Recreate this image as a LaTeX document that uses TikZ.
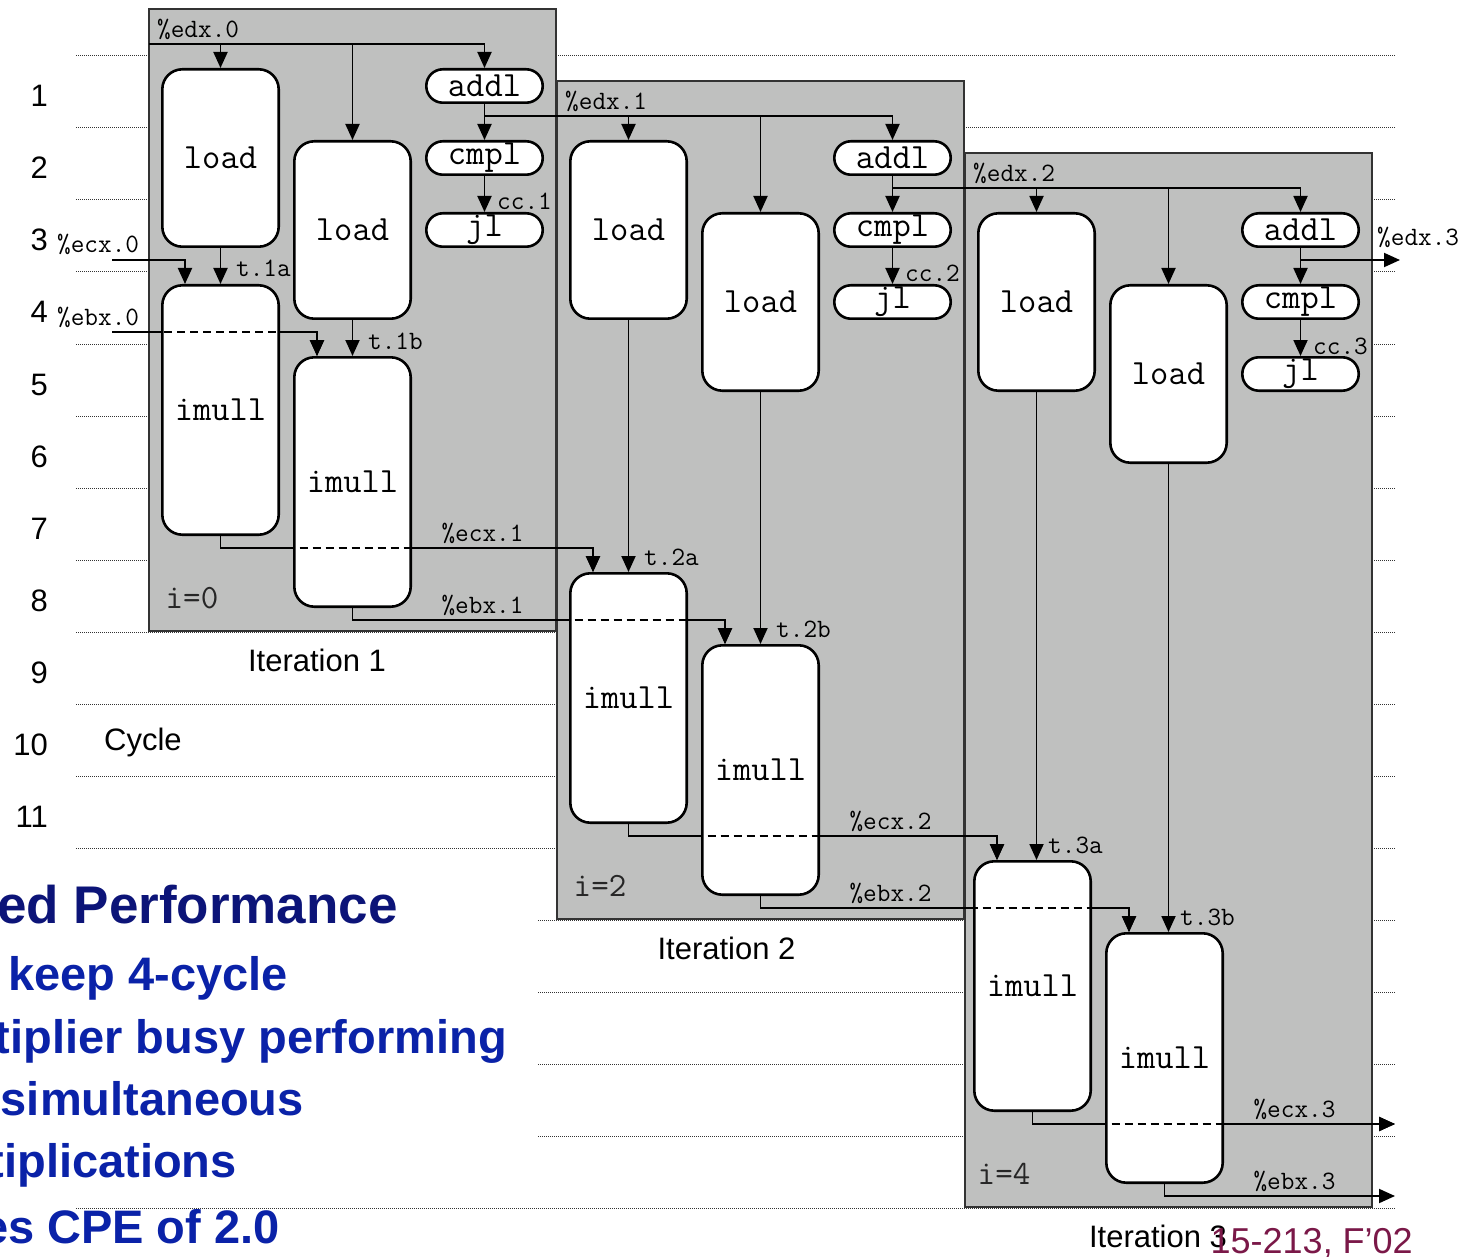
\documentclass[tikz,border=0pt]{standalone}
\usepackage{fontspec}
\setmainfont{Liberation Sans}
\newcommand\cour{\ttfamily}
\usetikzlibrary{arrows.meta}
\pgfdeclarelayer{gridl}
\pgfdeclarelayer{boxl}
\pgfdeclarelayer{linel}
\pgfdeclarelayer{frontl}
\pgfsetlayers{gridl,boxl,linel,main,frontl}
\definecolor{boxgray}{RGB}{191,192,191}
\definecolor{navyt}{RGB}{12,20,120}
\definecolor{bluet}{RGB}{10,34,168}
\definecolor{maroont}{RGB}{122,24,72}
\newcommand\twolayer[1]{%
  \begin{pgfonlayer}{linel}\draw[cn] #1;\end{pgfonlayer}%
  \begin{pgfonlayer}{frontl}\draw[cn,dash pattern=on 8pt off 5pt] #1;\end{pgfonlayer}}
\begin{document}
\begin{tikzpicture}[x=1pt,y=-1pt,
  op/.style={draw, line width=2.6pt, fill=white, rounded corners=20pt,
    minimum width=116.4pt, minimum height=177.4pt, inner sep=0pt,
    font=\cour\fontsize{35.5}{35.5}\selectfont},
  mul/.style={op, minimum height=249.4pt},
  pill/.style={op, rounded corners=16.5pt, minimum height=33.4pt},
  sm/.style={font=\cour\fontsize{26.5}{26.5}\selectfont, inner sep=0pt},
  itext/.style={font=\cour\fontsize{34}{34}\selectfont, inner sep=0pt, text=black!85},
  sansbig/.style={font=\fontsize{31}{31}\selectfont, inner sep=0pt},
  cn/.style={line width=1.9pt, -{Triangle[width=14pt,length=16pt]}},
  ln/.style={line width=1.9pt},
  itbox/.style={fill=boxgray, draw=black!80, line width=1.6pt},
  gridln/.style={line width=1pt, black!80, dash pattern=on 1pt off 1pt},
  bluebig/.style={font=\bfseries\fontsize{47}{47}\selectfont, inner sep=0pt, text=bluet, anchor=base east}
]
\useasboundingbox (0,0) rectangle (1475,1257);

% background and grid of cycles
\begin{pgfonlayer}{gridl}
\fill[white] (0,0) rectangle (1475,1257);
\foreach \i in {0,...,11,16} \draw[gridln] (76,56+72*\i) -- (1395,56+72*\i);
\foreach \i in {12,...,15} \draw[gridln] (538,56+72*\i) -- (1395,56+72*\i);
\end{pgfonlayer}

% cycle numbers
\foreach \r in {1,...,11} \node[sansbig, anchor=base east] (row\r) at (48,107+72*\r-72) {\r};
\node[sansbig, anchor=base west] (cyc) at (104,750) {Cycle};

% iterations
\foreach \k/\nn/\ii/\dx/\dy/\mx/\my in {0/1/0/0/0/0/0, 1/2/2/408/72/408/288, 2/3/4/816/144/812/576}{
  \begin{pgfonlayer}{boxl}
    \draw[itbox] (149+\dx,9+\dy) rectangle (556+\dx,631+\my);
  \end{pgfonlayer}
  \node[op] (La\k) at (220.5+\dx,158+\dy) {load};
  \node[op] (Lb\k) at (352.5+\dx,230+\dy) {load};
  \node[pill] (A\k) at (484.5+\dx,86+\dy) {addl};
  \node[pill] (C\k) at (484.5+\dx,158+\dy) {cmpl};
  \node[pill] (J\k) at (484.5+\dx,230+\dy) {jl};
  \node[mul] (Ma\k) at (220.5+\mx,410+\my) {imull};
  \node[mul] (Mb\k) at (352.5+\mx,482+\my) {imull};
  \node[sm, anchor=base west] (edxl\k) at (157+\dx,38+\dy) {\%edx.\k};
  \node[sm, anchor=base west] (ccl\k) at (497+\dx,210+\dy) {cc.\nn};
  \node[sm, anchor=base west] (tal\k) at (236+\mx,277+\my) {t.\nn a};
  \node[sm, anchor=base west] (tbl\k) at (368+\mx,349+\my) {t.\nn b};
  \node[sm, anchor=base] (ecxl\k) at (482.5+\mx,541+\my) {\%ecx.\nn};
  \node[sm, anchor=base] (ebxl\k) at (482.5+\mx,613+\my) {\%ebx.\nn};
  \node[itext, anchor=base] (il\k) at (192+\mx,608+\my) {i=\ii};
  \coordinate (cin\k) at (185+\mx,260+\my);
  \coordinate (bin\k) at (317+\mx,332+\my);
}
\node[sansbig, anchor=base] (it1) at (317,671) {Iteration 1};
\node[sansbig, anchor=base] (it2) at (726.5,959) {Iteration 2};
\node[sansbig, anchor=base] (it3) at (1158,1247) {Iteration 3};

% edx chains
\coordinate (E0) at (149,44);
\coordinate (E1) at (484.5,116);
\coordinate (E2) at (892.5,188);
\coordinate (E3) at (1300.5,260);
\coordinate (oe) at (1400,260);
\foreach \k in {0,1,2}{
  \draw[ln] (E\k) -- (E\k -| A\k.north);
  \draw[cn] (E\k -| La\k.north) -- (La\k.north);
  \draw[cn] (E\k -| Lb\k.north) -- (Lb\k.north);
  \draw[cn] (E\k -| A\k.north) -- (A\k.north);
  \draw[cn] (A\k.south) -- (C\k.north);
  \draw[cn] (C\k.south) -- (J\k.north);
  \draw[cn] (La\k.south) -- (La\k.south |- Ma\k.north);
  \draw[cn] (Lb\k.south) -- (Lb\k.south |- Mb\k.north);
}
\draw[cn] (E3) -- (oe);
\node[sm, anchor=base west] (edxl3) at (1377,246) {\%edx.3};

% ecx / ebx inputs
\coordinate (ecx0) at (112,260);
\coordinate (ebx0) at (112,332);
\node[sm, anchor=base west] (ecxl0) at (57,253) {\%ecx.0};
\node[sm, anchor=base west] (ebxl0) at (57,325) {\%ebx.0};
\draw[cn] (ecx0) -- (cin0) -- (cin0 |- Ma0.north);
\twolayer{(ebx0) -- (bin0) -- (bin0 |- Mb0.north)}
\foreach \k/\pk in {1/0,2/1}{
  \twolayer{(Ma\pk.south) |- (cin\k) -- (cin\k |- Ma\k.north)}
  \twolayer{(Mb\pk.south) |- (bin\k) -- (bin\k |- Mb\k.north)}
}
\coordinate (oc) at (1395,1124);
\coordinate (ob) at (1395,1196);
\twolayer{(Ma2.south) |- (oc)}
\draw[cn] (Mb2.south) |- (ob);

% slide overlay text
\begin{pgfonlayer}{frontl}
\node[bluebig, text=navyt, font=\bfseries\fontsize{53}{53}\selectfont] (h1) at (398,923) {ed Performance};
\node[bluebig] (b1) at (288,990) {keep 4-cycle};
\node[bluebig] (b2) at (507,1053) {tiplier busy performing};
\node[bluebig] (b3) at (304,1115) {simultaneous};
\node[bluebig] (b4) at (237,1177) {tiplications};
\node[bluebig] (b5) at (280,1243) {es CPE of 2.0};
\node[font=\fontsize{36}{36}\selectfont, text=maroont, anchor=base east, inner sep=0pt] (foot) at (1413,1253) {15-213, F’02};
\end{pgfonlayer}
\end{tikzpicture}
\end{document}
